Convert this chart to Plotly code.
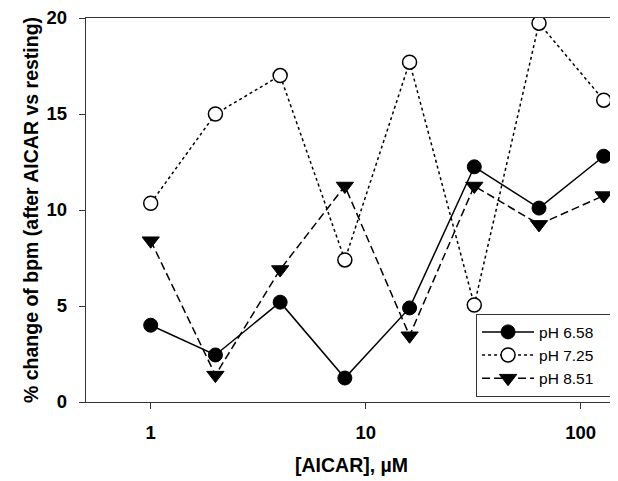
import plotly.graph_objects as go

conc = [1, 2, 4, 8, 16, 32, 64, 128]
ph658 = [4.0, 2.45, 5.2, 1.25, 4.9, 12.25, 10.1, 12.8]
ph725 = [10.35, 15.0, 17.0, 7.4, 17.7, 5.05, 19.73, 15.72]
ph851 = [8.4, 1.4, 6.9, 11.25, 3.45, 11.25, 9.25, 10.75]
series_names = ["pH 6.58", "pH 7.25", "pH 8.51"]
x_ticks = [1, 10, 100]
y_ticks = [0, 5, 10, 15, 20]

pad = "\u00a0\u00a0\u00a0"

fig = go.Figure()
fig.add_trace(go.Scatter(
    x=conc, y=ph658, name=series_names[0] + pad, mode="lines+markers",
    line=dict(color="black", width=1.5),
    marker=dict(symbol="circle", size=14, color="black", line=dict(color="black", width=1)),
))
fig.add_trace(go.Scatter(
    x=conc, y=ph725, name=series_names[1] + pad, mode="lines+markers",
    line=dict(color="black", width=1.5, dash="dot"),
    marker=dict(symbol="circle", size=14, color="white", line=dict(color="black", width=1.5)),
))
fig.add_trace(go.Scatter(
    x=conc, y=ph851, name=series_names[2] + pad, mode="lines+markers",
    line=dict(color="black", width=1.5, dash="8px,4px"),
    marker=dict(symbol="triangle-down", size=15, color="black", line=dict(color="black", width=1)),
))

axis_common = dict(
    showline=True, linecolor="#333", linewidth=1.3, mirror=True,
    ticks="outside", ticklen=6, tickwidth=1.3, tickcolor="#333",
    showgrid=False, zeroline=False, automargin=False,
    ticklabeloverflow="allow",
    tickfont=dict(family="Liberation Sans", size=18.5, color="black", weight="bold"),
)
title_font = dict(family="Liberation Sans", size=19.5, color="black", weight="bold")

fig.update_xaxes(
    type="log", range=[-0.301, 2.169], tickvals=x_ticks, ticktext=[str(t) for t in x_ticks],
    title=dict(text="[AICAR], µM", font=title_font, standoff=16),
    ticklabelstandoff=8,
    **axis_common,
)
fig.update_yaxes(
    range=[0, 20], tickvals=y_ticks,
    title=dict(text="% change of bpm (after AICAR vs resting)", font=title_font, standoff=2),
    ticklabelstandoff=8,
    **axis_common,
)

fig.update_layout(
    width=610, height=473,
    margin=dict(l=78, r=1, t=10, b=79),
    paper_bgcolor="white", plot_bgcolor="white",
    showlegend=True,
    legend=dict(
        x=0.992, y=0.013, xanchor="right", yanchor="bottom",
        bordercolor="#333", borderwidth=1.3, bgcolor="white",
        font=dict(family="Liberation Sans", size=15.5, color="black"),
        itemwidth=52, tracegroupgap=0,
    ),
)

fig.write_html("out.html")
